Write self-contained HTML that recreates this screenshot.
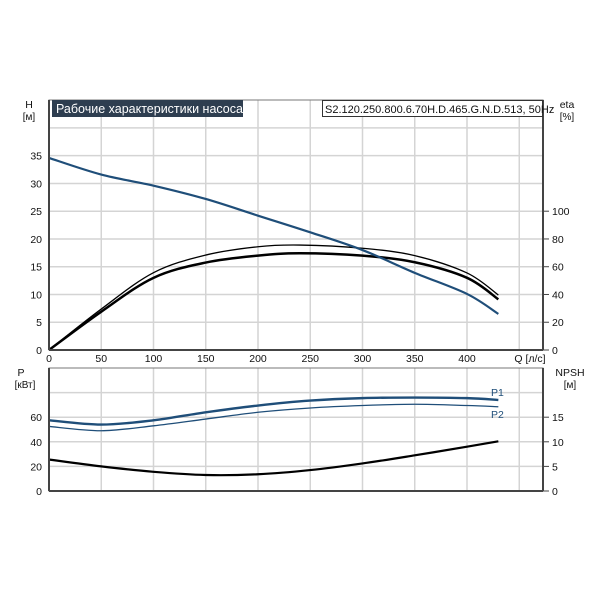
<!DOCTYPE html>
<html><head><meta charset="utf-8"><style>
body{margin:0;background:#fff;}
svg{display:block;font-family:"Liberation Sans",sans-serif;}
</style></head><body>
<svg id="c" width="600" height="600" viewBox="0 0 600 600">
<rect x="0" y="0" width="600" height="600" fill="#fff"/>
<g id="grid"></g>
<g id="series"></g>
<g id="axes"></g>
<rect x="52" y="100" width="191" height="17" fill="#2e3e50"/>
<text x="56" y="113" font-size="12.5" fill="#fff">Рабочие характеристики насоса</text>
<rect x="322.5" y="100.5" width="220" height="16" fill="#fff" stroke="#333"/>
<text x="325" y="113" font-size="11" fill="#111">S2.120.250.800.6.70H.D.465.G.N.D.513, 50Hz</text>
<text x="29" y="108" font-size="10.5" text-anchor="middle" fill="#111">H</text>
<text x="29" y="120" font-size="10" text-anchor="middle" fill="#111">[м]</text>
<text x="567" y="108" font-size="10.5" text-anchor="middle" fill="#111">eta</text>
<text x="567" y="120" font-size="10" text-anchor="middle" fill="#111">[%]</text>
<text x="530" y="362" font-size="10.5" text-anchor="middle" fill="#111">Q [л/с]</text>
<text x="21" y="376" font-size="10.5" text-anchor="middle" fill="#111">P</text>
<text x="25" y="388" font-size="10" text-anchor="middle" fill="#111">[кВт]</text>
<text x="570" y="376" font-size="10.5" text-anchor="middle" fill="#111">NPSH</text>
<text x="570" y="388" font-size="10" text-anchor="middle" fill="#111">[м]</text>
<text x="491" y="396" font-size="10.5" fill="#1f4e79">P1</text>
<text x="491" y="418" font-size="10.5" fill="#1f4e79">P2</text>
</svg>
<script>
const qTicks=[0,50,100,150,200,250,300,350,400];
const hTicks=[0,5,10,15,20,25,30,35];
const etaTicks=[0,20,40,60,80,100];
const pTicks=[0,20,40,60];
const npshTicks=[0,5,10,15];
const qVals=[0,50,100,150,200,250,300,350,400,430];
const headVals=[34.6,31.6,29.6,27.2,24.2,21.2,18.0,13.9,10.1,6.5];
const eta1Q=[0,50,100,150,200,240,300,350,400,430];
const eta1Vals=[0,29.5,55.7,68.4,74.4,75.6,73.3,68,55.5,39.6];
const eta2Vals=[0,27.6,52,63,68,69.7,68,63.2,52,36.5];
const p1Vals=[57.5,54,57.5,64,69.5,73.5,75.5,76,75.5,74];
const p2Vals=[52.5,49,53,58.5,64,67.5,69.5,70.5,69.5,68.5];
const npshVals=[6.4,5,3.9,3.25,3.4,4.25,5.6,7.25,9,10.1];

const NS="http://www.w3.org/2000/svg";
const L=49,R=543,T1=100,B1=350,T2=368,B2=491;
const xS=q=>L+q*1.045;
const yH=h=>B1-h*27.76/5;
const yE=e=>B1-e*27.76/20;
const yP=p=>B2-p*24.6/20;
const yN=n=>B2-n*24.6/5;
function mk(tag,attrs,parent){const e=document.createElementNS(NS,tag);for(const k in attrs)e.setAttribute(k,attrs[k]);document.getElementById(parent).appendChild(e);return e;}
function smooth(pts){let d="M"+pts[0][0]+","+pts[0][1];for(let i=0;i<pts.length-1;i++){const p0=pts[i-1]||pts[i],p1=pts[i],p2=pts[i+1],p3=pts[i+2]||p2;d+=" C"+(p1[0]+(p2[0]-p0[0])/6)+","+(p1[1]+(p2[1]-p0[1])/6)+" "+(p2[0]-(p3[0]-p1[0])/6)+","+(p2[1]-(p3[1]-p1[1])/6)+" "+p2[0]+","+p2[1];}return d;}
// grid
[50,100,150,200,250,300,350,400,450].forEach(q=>{
  let g=mk("line",{x1:xS(q),x2:xS(q),y1:T1,y2:B1,stroke:"#d4d4d4","stroke-width":1.5},"grid");
  
  
  let g2=mk("line",{x1:xS(q),x2:xS(q),y1:T2,y2:B2,stroke:"#d4d4d4","stroke-width":1.5},"grid");
  
  
});
[5,10,15,20,25,30,35,40].forEach(h=>{
  let g=mk("line",{x1:L,x2:R,y1:yH(h),y2:yH(h),stroke:"#d4d4d4","stroke-width":1.5},"grid");
  
  
});
[20,40,60,80].forEach(p=>{
  let g=mk("line",{x1:L,x2:R,y1:yP(p),y2:yP(p),stroke:"#d4d4d4","stroke-width":1.5},"grid");
  
  
});
// axes frames
[[T1,B1],[T2,B2]].forEach(([t,b],i)=>{
  let f=mk("rect",{x:L,y:t,width:R-L,height:b-t,fill:"none",stroke:"#777","stroke-width":1},"axes");
  
  
  let a=mk("line",{x1:L,x2:L,y1:t,y2:b,stroke:"#444","stroke-width":2},"axes");
  
  
  let c=mk("line",{x1:R,x2:R,y1:t,y2:b,stroke:"#444","stroke-width":2},"axes");
  
  
  let d=mk("line",{x1:L,x2:R,y1:b,y2:b,stroke:"#444","stroke-width":2},"axes");
  
  
});
function txt(x,y,s,anchor,name){const t=mk("text",{x:x,y:y,"font-size":10.5,"text-anchor":anchor,fill:"#111"},"axes");t.textContent=s;
  
  }
qTicks.forEach(q=>txt(xS(q),362,q,"middle","q-tick-label"));
hTicks.forEach(h=>txt(42,yH(h)+4,h,"end","h-tick-label"));
etaTicks.forEach(e=>{mk("line",{x1:R,x2:R+6,y1:yE(e),y2:yE(e),stroke:"#444"},"axes");txt(R+9,yE(e)+4,e,"start","eta-tick-label");});
pTicks.forEach(p=>txt(42,yP(p)+4,p,"end","p-tick-label"));
npshTicks.forEach(n=>{mk("line",{x1:R,x2:R+6,y1:yN(n),y2:yN(n),stroke:"#444"},"axes");txt(R+9,yN(n)+4,n,"start","npsh-tick-label");});
function curve(xs,ys,yf,color,w,name){
  const p=mk("path",{d:smooth(xs.map((q,i)=>[xS(q),yf(ys[i])])),fill:"none",stroke:color,"stroke-width":w},"series");
  
  
}
curve(eta1Q,eta1Vals,yE,"#000",1.3,"eta1-curve");
curve(eta1Q,eta2Vals,yE,"#000",2.5,"eta2-curve");
curve(qVals,headVals,yH,"#1f4e79",2.2,"head-curve");
curve(qVals,p1Vals,yP,"#1f4e79",2.4,"p1-curve");
curve(qVals,p2Vals,yP,"#1f4e79",1.3,"p2-curve");
curve(qVals,npshVals,yN,"#000",2.2,"npsh-curve");
</script>
</body></html>
